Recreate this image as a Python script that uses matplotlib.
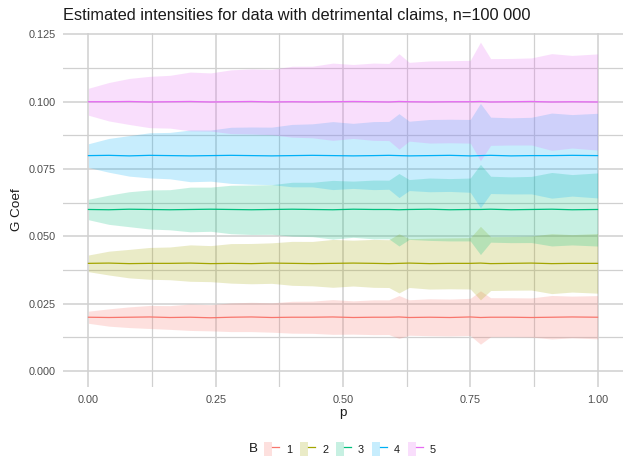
import matplotlib
matplotlib.use("Agg")
import matplotlib.pyplot as plt
from matplotlib.patches import Patch
from matplotlib.lines import Line2D
from matplotlib.legend_handler import HandlerTuple

plt.rcParams['font.family'] = ['Liberation Sans', 'DejaVu Sans']

title = "Estimated intensities for data with detrimental claims, n=100 000"
groups = ["1", "2", "3", "4", "5"]
colors = ["#F8766D", "#A3A500", "#00BF7D", "#00B0F6", "#E76BF3"]

p = [0.00, 0.04, 0.08, 0.12, 0.16, 0.20, 0.24, 0.28, 0.32, 0.36, 0.40, 0.44,
     0.48, 0.52, 0.56, 0.59, 0.61, 0.63, 0.67, 0.71, 0.75, 0.77, 0.79, 0.83,
     0.87, 0.91, 0.95, 1.00]

# estimated coefficient (centre lines)
c1 = [0.0200, 0.0199, 0.0200, 0.0201, 0.0199, 0.0200, 0.0198, 0.0200, 0.0201, 0.0199,
      0.0200, 0.0200, 0.0201, 0.0199, 0.0200, 0.0200, 0.0201, 0.0199, 0.0200, 0.0199,
      0.0201, 0.0199, 0.0200, 0.0200, 0.0199, 0.0200, 0.0201, 0.0200]
c2 = [0.0400, 0.0401, 0.0399, 0.0400, 0.0400, 0.0401, 0.0399, 0.0400, 0.0399, 0.0401,
      0.0400, 0.0399, 0.0400, 0.0401, 0.0400, 0.0399, 0.0400, 0.0401, 0.0399, 0.0400,
      0.0400, 0.0401, 0.0399, 0.0400, 0.0401, 0.0399, 0.0400, 0.0400]
c3 = [0.0600, 0.0599, 0.0601, 0.0600, 0.0599, 0.0600, 0.0601, 0.0600, 0.0599, 0.0600,
      0.0601, 0.0600, 0.0599, 0.0601, 0.0600, 0.0600, 0.0599, 0.0600, 0.0601, 0.0599,
      0.0600, 0.0600, 0.0601, 0.0599, 0.0600, 0.0601, 0.0599, 0.0600]
c4 = [0.0800, 0.0801, 0.0799, 0.0801, 0.0800, 0.0799, 0.0800, 0.0801, 0.0800, 0.0799,
      0.0800, 0.0801, 0.0800, 0.0799, 0.0800, 0.0801, 0.0800, 0.0799, 0.0800, 0.0801,
      0.0799, 0.0800, 0.0801, 0.0799, 0.0800, 0.0800, 0.0801, 0.0800]
c5 = [0.1000, 0.1000, 0.1001, 0.0999, 0.1000, 0.1001, 0.0999, 0.1000, 0.1001, 0.0999,
      0.1000, 0.0999, 0.1000, 0.1001, 0.1000, 0.0999, 0.1001, 0.1000, 0.0999, 0.1000,
      0.1000, 0.1001, 0.0999, 0.1000, 0.1001, 0.0999, 0.1000, 0.0999]

# half-widths of the confidence bands
hw1 = [0.00225, 0.00321, 0.00384, 0.00428, 0.00441, 0.00491, 0.00486, 0.00533, 0.00543, 0.00546,
       0.00592, 0.00598, 0.00645, 0.00618, 0.00646, 0.00644, 0.00797, 0.00658, 0.00686, 0.00685,
       0.00691, 0.00991, 0.00725, 0.00723, 0.00727, 0.00808, 0.00774, 0.00803]
hw2 = [0.00310, 0.00442, 0.00529, 0.00590, 0.00608, 0.00676, 0.00669, 0.00734, 0.00748, 0.00752,
       0.00816, 0.00824, 0.00889, 0.00851, 0.00890, 0.00887, 0.01098, 0.00906, 0.00945, 0.00944,
       0.00952, 0.01365, 0.00999, 0.00996, 0.01002, 0.01113, 0.01066, 0.01107]
hw3 = [0.00380, 0.00542, 0.00649, 0.00724, 0.00745, 0.00829, 0.00820, 0.00900, 0.00917, 0.00922,
       0.01000, 0.01010, 0.01090, 0.01043, 0.01091, 0.01088, 0.01346, 0.01111, 0.01158, 0.01157,
       0.01167, 0.01674, 0.01224, 0.01221, 0.01228, 0.01364, 0.01306, 0.01357]
hw4 = [0.00440, 0.00627, 0.00752, 0.00838, 0.00862, 0.00960, 0.00950, 0.01042, 0.01062, 0.01067,
       0.01158, 0.01170, 0.01262, 0.01208, 0.01263, 0.01259, 0.01558, 0.01287, 0.01341, 0.01340,
       0.01352, 0.01938, 0.01418, 0.01413, 0.01422, 0.01580, 0.01513, 0.01571]
hw5 = [0.00500, 0.00713, 0.00854, 0.00952, 0.00980, 0.01091, 0.01079, 0.01184, 0.01207, 0.01213,
       0.01316, 0.01329, 0.01434, 0.01373, 0.01435, 0.01431, 0.01771, 0.01462, 0.01524, 0.01523,
       0.01536, 0.02202, 0.01611, 0.01606, 0.01616, 0.01795, 0.01719, 0.01785]

centres = [c1, c2, c3, c4, c5]
halfw = [hw1, hw2, hw3, hw4, hw5]

xticks = [0.0, 0.25, 0.5, 0.75, 1.0]
xticklabels = ["0.00", "0.25", "0.50", "0.75", "1.00"]
yticks = [0.0, 0.025, 0.05, 0.075, 0.1, 0.125]
yticklabels = ["0.000", "0.025", "0.050", "0.075", "0.100", "0.125"]

W, H = 628, 458
fig = plt.figure(figsize=(W / 100, H / 100), dpi=100)
ax = fig.add_axes([63 / W, 1 - 387 / H, 560 / W, (387 - 32.5) / H])

grid_col = "#d0d0d0"
ax.set_axisbelow(True)
ax.grid(which="major", color=grid_col, lw=1.1)
ax.grid(which="minor", color=grid_col, lw=0.9)

alpha = 0.22
for c, hw, col in zip(centres, halfw, colors):
    lo = [a - b for a, b in zip(c, hw)]
    hi = [a + b for a, b in zip(c, hw)]
    ax.fill_between(p, lo, hi, color=col, alpha=alpha, lw=0)
for c, col in zip(centres, colors):
    ax.plot(p, c, color=col, lw=0.9)

ax.set_xlim(-0.05, 1.05)
ax.set_ylim(-0.0059, 0.1257)
ax.set_xticks(xticks)
ax.set_xticklabels(xticklabels)
ax.set_xticks([0.125, 0.375, 0.625, 0.875], minor=True)
ax.set_yticks(yticks)
ax.set_yticklabels(yticklabels)
ax.set_yticks([0.0125, 0.0375, 0.0625, 0.0875, 0.1125], minor=True)
ax.tick_params(which="both", length=0, labelsize=7.8, labelcolor="#4d4d4d")
ax.tick_params(axis="x", pad=6)
ax.tick_params(axis="y", pad=5)
for s in ax.spines.values():
    s.set_visible(False)

fig.text(63 / W, 1 - 15 / H, title, fontsize=11.8, ha="left", va="center", color="#1a1a1a")
fig.text(343 / W, 1 - 413 / H, "p", fontsize=9.7, ha="center", va="center", color="#1a1a1a")
fig.text(17 / W, 1 - 210 / H, "G Coef", fontsize=9.7, ha="center", va="center",
         rotation=90, color="#1a1a1a")

handles = [(Patch(facecolor=col, alpha=alpha, lw=0), Line2D([], [], color=col, lw=0.9))
           for col in colors]
fig.text(253 / W, 1 - 449 / H, "B", fontsize=9.7, ha="center", va="center", color="#1a1a1a")
leg = fig.legend(handles, groups, ncol=5, loc="center", bbox_to_anchor=(350 / W, 1 - 449 / H),
                 frameon=False, fontsize=7.8, handlelength=1.42, handleheight=1.5,
                 handletextpad=0.62, columnspacing=0.72, borderpad=0,
                 handler_map={tuple: HandlerTuple(ndivide=None)})
for t in leg.get_texts():
    t.set_color("#1a1a1a")

fig.savefig("out.png", dpi=100)
